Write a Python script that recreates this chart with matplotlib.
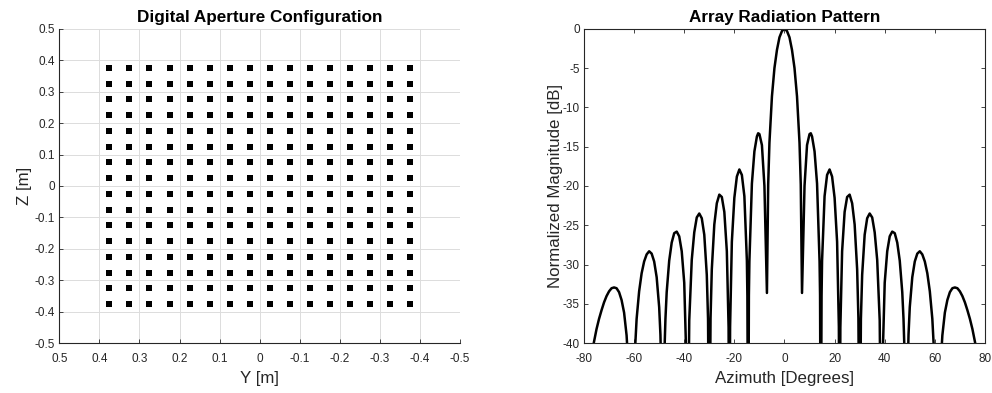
import matplotlib
matplotlib.use('Agg')
import matplotlib.pyplot as plt
import numpy as np

plt.rcParams['font.family'] = ['Liberation Sans', 'DejaVu Sans']
plt.rcParams['axes.unicode_minus'] = False

# element positions of the planar aperture [m]
yPos = [0.375, 0.325, 0.275, 0.225, 0.175, 0.125, 0.075, 0.025,
        -0.025, -0.075, -0.125, -0.175, -0.225, -0.275, -0.325, -0.375]
zPos = [0.375, 0.325, 0.275, 0.225, 0.175, 0.125, 0.075, 0.025,
        -0.025, -0.075, -0.125, -0.175, -0.225, -0.275, -0.325, -0.375]

azHalf = [0, 1, 2, 3, 4, 5, 6, 6.5, 7, 8, 9, 10, 10.5, 11, 12, 13, 14, 14.2,
          14.48, 14.8, 15, 16, 17, 18, 19, 20, 21, 21.7, 22.02, 22.3, 23, 24,
          25, 26, 27, 28, 29, 29.5, 30, 30.5, 31, 32, 33, 34, 35, 36, 37, 38,
          38.68, 39, 40, 41, 42, 43, 44, 45, 46, 47, 47.5, 48, 48.59, 49,
          49.5, 50, 51, 52, 53, 54, 55, 56, 57, 58, 59, 60, 61.04, 62, 63, 64,
          65, 66, 67, 68, 69, 70, 71, 72, 73, 74, 75, 76, 77, 78, 80]
magHalf = [0.0, -0.3, -1.1, -2.7, -5.0, -8.6, -14.5, -19.8, -33.6, -20.0,
           -14.8, -13.4, -13.3, -13.7, -15.6, -19.7, -29.6, -33.9,
           -60, -34.0, -29.5, -21.3, -18.6, -17.9, -18.8, -21.5, -27.1,
           -37.9, -60, -38.0, -28.3, -23.3, -21.4, -21.1, -22.2, -24.9,
           -30.6, -36.8, -60, -36.9, -31.3, -26.2, -24.1, -23.5, -24.0,
           -25.9, -29.4, -37.1, -60, -44.0, -32.3, -28.3, -26.4, -25.8,
           -26.0, -27.2, -29.5, -33.5, -36.9, -42.2, -60, -45.6, -38.9,
           -35.4, -31.6, -29.6, -28.6, -28.3, -28.7, -29.6, -31.1, -33.4,
           -36.9, -43.0, -60, -44.5, -39.0, -36.1, -34.5, -33.5, -33.0,
           -32.9, -33.0, -33.4, -34.0, -34.8, -35.8, -36.9, -38.2, -39.8,
           -41.5, -43.4, -47.8]

xTicksLeft = [0.5, 0.4, 0.3, 0.2, 0.1, 0, -0.1, -0.2, -0.3, -0.4, -0.5]
yTicksLeft = [0.5, 0.4, 0.3, 0.2, 0.1, 0, -0.1, -0.2, -0.3, -0.4, -0.5]
xTicksRight = [-80, -60, -40, -20, 0, 20, 40, 60, 80]
yTicksRight = [0, -5, -10, -15, -20, -25, -30, -35, -40]

textColor = '#262626'
fig = plt.figure(figsize=(9.92, 3.93), dpi=100)

# left: aperture layout
ax1 = fig.add_axes([0.0598, 0.1265, 0.404, 0.8005])
yy, zz = np.meshgrid(yPos, zPos)
ax1.plot(yy.ravel(), zz.ravel(), 's', color='black', markersize=3.7,
         markeredgewidth=0)
ax1.set_xlim(0.5, -0.5)
ax1.set_ylim(-0.5, 0.5)
ax1.set_xticks(xTicksLeft)
ax1.set_xticklabels([f'{t:g}' for t in xTicksLeft])
ax1.set_yticks(yTicksLeft)
ax1.set_yticklabels([f'{t:g}' for t in yTicksLeft])
ax1.grid(True, color='#dcdcdc', linewidth=0.7)
ax1.set_axisbelow(True)
ax1.spines['top'].set_visible(False)
ax1.spines['right'].set_visible(False)
ax1.set_xlabel('Y [m]', fontsize=12.2, color=textColor, labelpad=4)
ax1.set_ylabel('Z [m]', fontsize=12.2, color=textColor, labelpad=2)
ax1.set_title('Digital Aperture Configuration', fontsize=12.3,
              fontweight='bold', pad=5)

# right: radiation pattern
azimuth = np.concatenate([-np.array(azHalf[:0:-1]), azHalf])
magnitude = np.concatenate([magHalf[:0:-1], magHalf])

ax2 = fig.add_axes([0.5887, 0.1265, 0.4042, 0.8005])
ax2.plot(azimuth, magnitude, color='black', linewidth=1.8)
ax2.set_xlim(-80, 80)
ax2.set_ylim(-40, 0)
ax2.set_xticks(xTicksRight)
ax2.set_yticks(yTicksRight)
ax2.tick_params(top=True, right=True)
ax2.set_xlabel('Azimuth [Degrees]', fontsize=12.2, color=textColor,
               labelpad=4)
ax2.set_ylabel('Normalized Magnitude [dB]', fontsize=12.2, color=textColor,
               labelpad=0)
ax2.set_title('Array Radiation Pattern', fontsize=12.3, fontweight='bold',
              pad=5)

for ax in (ax1, ax2):
    ax.tick_params(direction='in', length=3, width=0.6, labelsize=8.5,
                   colors=textColor, pad=3)
    ax.tick_params(axis='x', pad=7)
    for s in ax.spines.values():
        s.set_color(textColor)
        s.set_linewidth(0.8)

plt.savefig('out.png', dpi=100)
plt.close()
